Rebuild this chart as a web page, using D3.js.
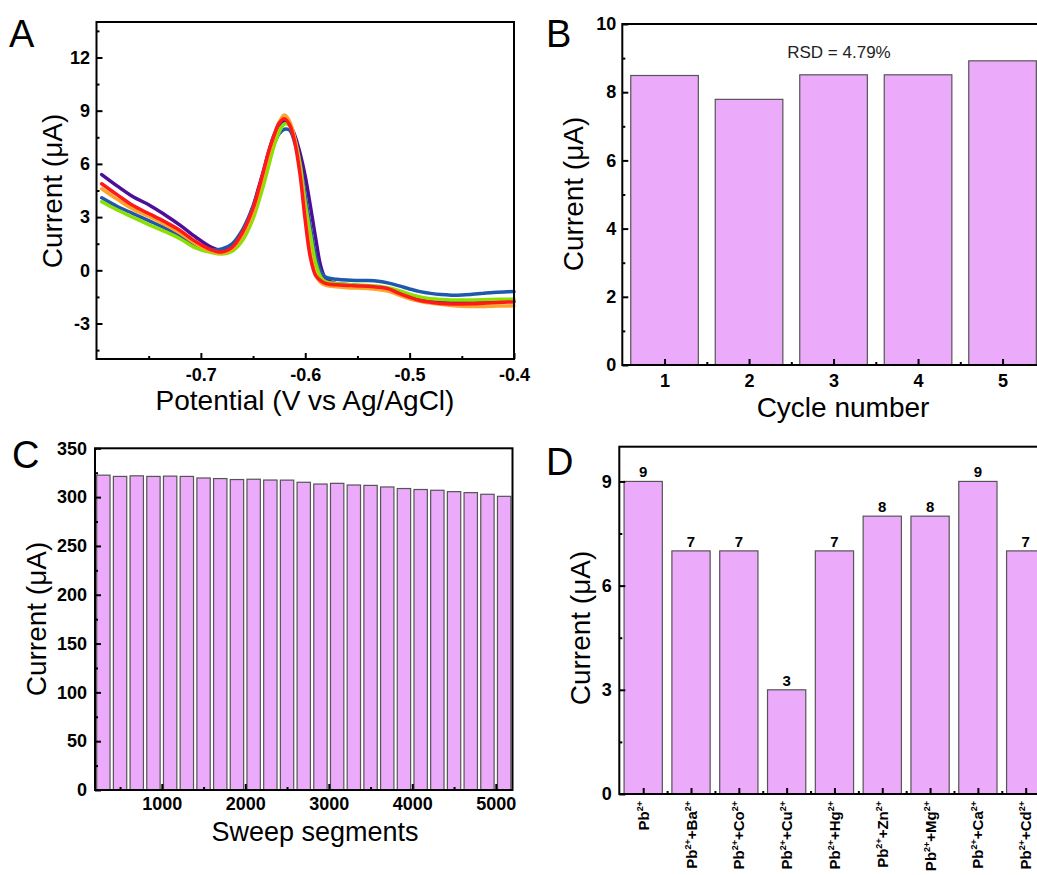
<!DOCTYPE html>
<html>
<head>
<meta charset="utf-8">
<script src="https://cdn.jsdelivr.net/npm/d3@7/dist/d3.min.js"></script>
<style>
  body { margin: 0; background: #fff; }
  svg { display: block; font-family: "Liberation Sans", Arial, sans-serif; }
  .tick text { font-weight: bold; font-size: 18px; fill: #000; }
  .tick line { stroke: #000; stroke-width: 2; }
  .title { font-size: 28px; fill: #000; }
  .letter { font-size: 38px; fill: #000; }
</style>
</head>
<body>
<svg id="fig" width="1037" height="875"></svg>
<script>
// ---- panel A: SWV curves, 5 repeated runs
const potentials = [-0.795, -0.78, -0.765, -0.75, -0.735, -0.72, -0.705, -0.69, -0.68, -0.67,
  -0.66, -0.65, -0.645, -0.64, -0.635, -0.63, -0.625, -0.62, -0.615, -0.61,
  -0.605, -0.60, -0.595, -0.59, -0.585, -0.58, -0.57, -0.56, -0.55, -0.54,
  -0.53, -0.52, -0.51, -0.50, -0.49, -0.48, -0.47, -0.46, -0.45, -0.44,
  -0.43, -0.42, -0.41, -0.40];
const runPurple = [5.4, 4.75, 4.15, 3.7, 3.15, 2.55, 1.88, 1.3, 1.12, 1.35,
  2.2, 3.6, 4.6, 5.6, 6.7, 7.6, 8.2, 8.4, 8.2, 7.6,
  6.6, 5.3, 3.6, 1.8, 0.2, -0.5, -0.75, -0.8, -0.85, -0.9,
  -0.97, -1.1, -1.3, -1.5, -1.62, -1.7, -1.75, -1.78, -1.78, -1.77,
  -1.76, -1.75, -1.75, -1.75];
const runBlue = [4.09, 3.6, 3.2, 2.8, 2.4, 1.95, 1.4, 1.18, 1.2, 1.5,
  2.3, 3.6, 4.5, 5.4, 6.3, 7.1, 7.7, 7.95, 7.9, 7.2,
  6.0, 4.2, 2.4, 0.8, -0.1, -0.4, -0.5, -0.55, -0.57, -0.58,
  -0.62, -0.72, -0.88, -1.05, -1.2, -1.3, -1.37, -1.4, -1.39, -1.35,
  -1.3, -1.25, -1.22, -1.2];
const runGreen = [3.87, 3.4, 2.98, 2.58, 2.2, 1.78, 1.26, 1.0, 0.92, 1.08,
  1.7, 2.9, 3.8, 4.8, 5.9, 7.0, 7.8, 8.25, 8.15, 7.4,
  6.0, 3.8, 2.0, 0.4, -0.4, -0.65, -0.75, -0.8, -0.83, -0.86,
  -0.9, -1.0, -1.15, -1.35, -1.5, -1.6, -1.64, -1.67, -1.68, -1.67,
  -1.66, -1.64, -1.63, -1.63];
const runOrange = [4.6, 4.0, 3.45, 3.05, 2.6, 2.1, 1.5, 1.08, 0.97, 1.22,
  2.0, 3.3, 4.3, 5.4, 6.5, 7.5, 8.35, 8.75, 8.4, 7.4,
  5.7, 3.1, 0.9, -0.25, -0.7, -0.85, -0.93, -0.98, -1.0, -1.02,
  -1.08, -1.18, -1.4, -1.6, -1.74, -1.85, -1.92, -1.98, -2.02, -2.04,
  -2.04, -2.02, -2.01, -2.0];
const runRed = [4.88, 4.25, 3.65, 3.2, 2.75, 2.25, 1.62, 1.15, 1.03, 1.3,
  2.15, 3.5, 4.5, 5.6, 6.7, 7.6, 8.3, 8.55, 8.2, 7.2,
  5.4, 2.8, 0.7, -0.3, -0.6, -0.75, -0.82, -0.85, -0.88, -0.9,
  -0.95, -1.05, -1.3, -1.52, -1.7, -1.8, -1.87, -1.9, -1.9, -1.89,
  -1.86, -1.83, -1.8, -1.78];
const runColors = ['#4b0f98', '#1f58ad', '#8ae000', '#ffa42a', '#ff1a1a'];
const aTicksX = [-0.7, -0.6, -0.5, -0.4];
const aMinorX = [-0.75, -0.65, -0.55, -0.45];
const aTicksY = [-3, 0, 3, 6, 9, 12];
const aMinorY = [-4.5, -1.5, 1.5, 4.5, 7.5, 10.5, 13.5];

// ---- panel B: repeatability
const cycles = [1, 2, 3, 4, 5];
const cycleCurrent = [8.49, 7.79, 8.51, 8.51, 8.92];
const bTicksY = [0, 2, 4, 6, 8, 10];
const bMinorY = [1, 3, 5, 7, 9];
const bMinorX = [1.5, 2.5, 3.5, 4.5];

// ---- panel C: stability over sweep segments
const segments = [300, 500, 700, 900, 1100, 1300, 1500, 1700, 1900, 2100, 2300, 2500, 2700,
  2900, 3100, 3300, 3500, 3700, 3900, 4100, 4300, 4500, 4700, 4900, 5100];
const segCurrent = [322.5, 321.2, 321.8, 321.2, 321.5, 321.2, 319.6, 319.0, 318.0, 318.3, 317.5, 317.4, 315.2,
  313.4, 314.1, 312.4, 312.0, 310.4, 308.8, 307.8, 307.0, 305.6, 304.6, 302.9, 300.8];
const cTicksX = [1000, 2000, 3000, 4000, 5000];
const cMinorX = [500, 1500, 2500, 3500, 4500];
const cTicksY = [0, 50, 100, 150, 200, 250, 300, 350];
const cMinorY = [25, 75, 125, 175, 225, 275, 325];

// ---- panel D: interference
const interferents = ['', 'Ba', 'Co', 'Cu', 'Hg', 'Zn', 'Mg', 'Ca', 'Cd'];
const interfCurrent = [9, 7, 7, 3, 7, 8, 8, 9, 7];
const dTicksY = [0, 3, 6, 9];
const dMinorY = [1.5, 4.5, 7.5];
const dMinorX = [1.5, 2.5, 3.5, 4.5, 5.5, 6.5, 7.5, 8.5, 9.5];

const barFill = '#ecaafa';
const barStroke = '#555';

const svg = d3.select('#fig');
svg.append('rect').attr('width', 1037).attr('height', 875).attr('fill', '#fff');

const fmt1 = d => d.toFixed(1);
const fmtInt = d => String(d);

function yAxis(g, y, x0, ticks, minor, pad, fmt) {
  g.append('g').attr('transform', `translate(${x0},0)`)
    .call(d3.axisLeft(y).tickValues(minor).tickSize(-3).tickFormat(''))
    .call(a => a.select('.domain').remove());
  g.append('g').attr('transform', `translate(${x0},0)`)
    .call(d3.axisLeft(y).tickValues(ticks).tickSize(-6).tickPadding(pad).tickFormat(fmt))
    .call(a => a.select('.domain').remove());
}

function xAxis(g, x, y0, ticks, minor, pad, fmt) {
  g.append('g').attr('transform', `translate(0,${y0})`)
    .call(d3.axisBottom(x).tickValues(minor).tickSize(-3).tickFormat(''))
    .call(a => a.select('.domain').remove());
  const ax = g.append('g').attr('transform', `translate(0,${y0})`)
    .call(d3.axisBottom(x).tickValues(ticks).tickSize(-6).tickPadding(pad).tickFormat(fmt))
    .call(a => a.select('.domain').remove());
  return ax;
}

function frame(g, x0, y0, x1, y1) {
  g.append('rect')
    .attr('x', x0).attr('y', y0)
    .attr('width', x1 - x0).attr('height', y1 - y0)
    .attr('fill', 'none').attr('stroke', '#000').attr('stroke-width', 2);
}

function yTitle(g, x, y, text) {
  g.append('text').attr('class', 'title')
    .attr('transform', `translate(${x},${y}) rotate(-90)`)
    .attr('text-anchor', 'middle')
    .text(text);
}

function letter(g, x, y, text) {
  g.append('text').attr('class', 'letter').attr('x', x).attr('y', y).text(text);
}

// ================= A =================
{
  const g = svg.append('g');
  const x = d3.scaleLinear().domain([-0.8, -0.4]).range([96.5, 514]);
  const y = d3.scaleLinear().domain([-5, 14]).range([359, 22]);
  const line = d3.line()
    .x((d, i) => x(potentials[i]))
    .y(d => y(d))
    .curve(d3.curveCatmullRom.alpha(0.5));
  [runPurple, runBlue, runGreen, runOrange, runRed].forEach((run, k) => {
    g.append('path')
      .datum(run)
      .attr('d', line)
      .attr('fill', 'none')
      .attr('stroke', runColors[k])
      .attr('stroke-width', 3.5)
      .attr('stroke-linejoin', 'round')
      .attr('stroke-linecap', 'round');
  });
  yAxis(g, y, 96.5, aTicksY, aMinorY, 6.5, fmtInt);
  xAxis(g, x, 359, aTicksX, aMinorX, 9, fmt1);
  frame(g, 96.5, 22, 514, 359);
  yTitle(g, 62, 191, 'Current (μA)');
  g.append('text').attr('class', 'title')
    .attr('x', 305).attr('y', 410).attr('text-anchor', 'middle')
    .text('Potential (V vs Ag/AgCl)');
  letter(g, 9, 47, 'A');
}

// ================= B =================
{
  const g = svg.append('g');
  const x = d3.scaleLinear().domain([0.5, 5.5]).range([622.3, 1044.8]);
  const y = d3.scaleLinear().domain([0, 10]).range([365, 24]);
  const bw = x(0.8) - x(0);
  g.selectAll('rect.bar')
    .data(cycles)
    .join('rect')
    .attr('class', 'bar')
    .attr('x', d => x(d) - bw / 2)
    .attr('y', (d, i) => y(cycleCurrent[i]))
    .attr('width', bw)
    .attr('height', (d, i) => y(0) - y(cycleCurrent[i]))
    .attr('fill', barFill)
    .attr('stroke', barStroke)
    .attr('stroke-width', 1.2);
  yAxis(g, y, 622.3, bTicksY, bMinorY, 6, fmtInt);
  xAxis(g, x, 365, cycles, bMinorX, 9, fmtInt);
  frame(g, 622.3, 24, 1044.8, 365);
  g.append('text')
    .attr('x', 839).attr('y', 58)
    .attr('text-anchor', 'middle')
    .style('font-size', '17px').style('fill', '#222')
    .text('RSD = 4.79%');
  yTitle(g, 583, 194, 'Current (μA)');
  g.append('text').attr('class', 'title')
    .attr('x', 843).attr('y', 417).attr('text-anchor', 'middle')
    .text('Cycle number');
  letter(g, 546, 47, 'B');
}

// ================= C =================
{
  const g = svg.append('g');
  const x = d3.scaleLinear().domain([200, 5200]).range([95, 512.5]);
  const y = d3.scaleLinear().domain([0, 350]).range([790, 448.3]);
  const bw = x(160) - x(0);
  g.selectAll('rect.bar')
    .data(segments)
    .join('rect')
    .attr('class', 'bar')
    .attr('x', d => x(d) - bw / 2)
    .attr('y', (d, i) => y(segCurrent[i]))
    .attr('width', bw)
    .attr('height', (d, i) => y(0) - y(segCurrent[i]))
    .attr('fill', barFill)
    .attr('stroke', barStroke)
    .attr('stroke-width', 1.2);
  yAxis(g, y, 95, cTicksY, cMinorY, 8, fmtInt);
  xAxis(g, x, 790, cTicksX, cMinorX, 7, fmtInt);
  frame(g, 95, 448.3, 512.5, 790);
  yTitle(g, 46, 619, 'Current (μA)');
  g.append('text').attr('class', 'title')
    .attr('x', 315).attr('y', 841).attr('text-anchor', 'middle')
    .style('font-size', '27px')
    .text('Sweep segments');
  letter(g, 12, 468, 'C');
}

// ================= D =================
{
  const g = svg.append('g');
  const idx = interferents.map((d, i) => i + 1);
  const x = d3.scaleLinear().domain([0.5, 9.5]).range([619.3, 1049.6]);
  const y = d3.scaleLinear().domain([0, 10]).range([794, 446.7]);
  const bw = x(0.8) - x(0);
  g.selectAll('rect.bar')
    .data(idx)
    .join('rect')
    .attr('class', 'bar')
    .attr('x', d => x(d) - bw / 2)
    .attr('y', (d, i) => y(interfCurrent[i]))
    .attr('width', bw)
    .attr('height', (d, i) => y(0) - y(interfCurrent[i]))
    .attr('fill', barFill)
    .attr('stroke', barStroke)
    .attr('stroke-width', 1.2);
  g.selectAll('text.val')
    .data(idx)
    .join('text')
    .attr('class', 'val')
    .attr('x', d => x(d))
    .attr('y', (d, i) => y(interfCurrent[i]) - 4)
    .attr('text-anchor', 'middle')
    .style('font-size', '15px').style('font-weight', 'bold')
    .text((d, i) => interfCurrent[i]);
  yAxis(g, y, 619.3, dTicksY, dMinorY, 7.5, fmtInt);
  const ax = xAxis(g, x, 794, idx, dMinorX, 9, '');
  ax.selectAll('.tick text').remove();
  // rotated ion labels with superscript charges
  idx.forEach((d, i) => {
    const t = g.append('text')
      .attr('transform', `translate(${x(d) + 5.5},801) rotate(-90)`)
      .attr('text-anchor', 'end')
      .style('font-size', '15px').style('font-weight', 'bold');
    t.append('tspan').text('Pb');
    t.append('tspan').attr('dy', -6).style('font-size', '9px').text('2+');
    if (interferents[i]) {
      t.append('tspan').attr('dy', 6).text('+' + interferents[i]);
      t.append('tspan').attr('dy', -6).style('font-size', '9px').text('2+');
    }
  });
  frame(g, 619.3, 446.7, 1049.6, 794);
  yTitle(g, 590, 628, 'Current (μA)');
  letter(g, 546, 475, 'D');
}
</script>
</body>
</html>
